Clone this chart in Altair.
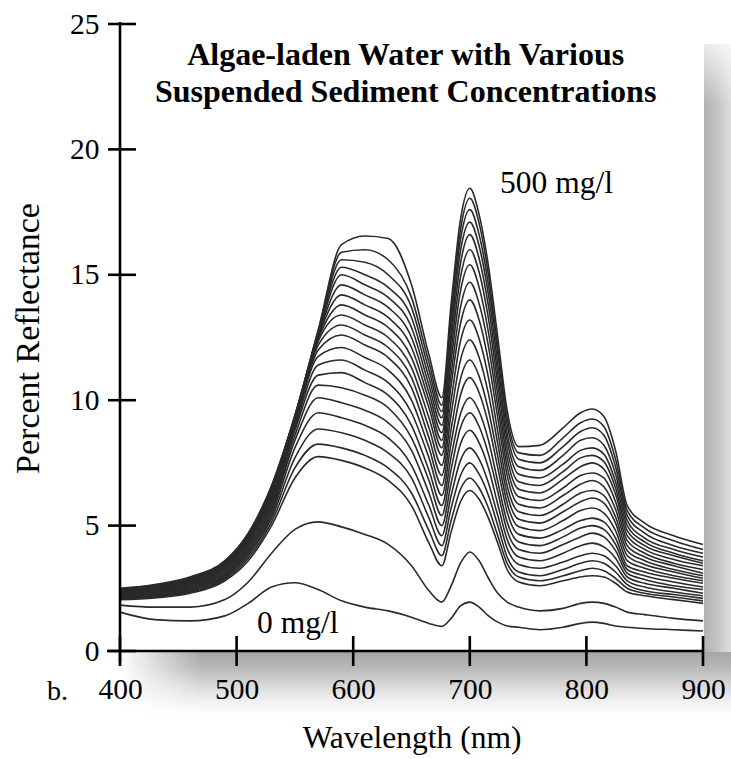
import altair as alt
import pandas as pd

# ---------------- data ----------------
wavelengths = [400, 430, 460, 490, 510, 530, 550, 570, 590, 610, 630, 650, 665, 676, 684, 692,
               700, 708, 716, 724, 732, 742, 760, 780, 795, 805, 815, 825, 835, 850, 875, 900]

# 0 mg/l curve
c0 = [1.55, 1.25, 1.2, 1.4, 1.9, 2.55, 2.72, 2.45, 2.0, 1.75, 1.6, 1.35, 1.1, 0.98, 1.3, 1.8,
      1.95, 1.75, 1.4, 1.15, 1.0, 0.95, 0.85, 0.95, 1.1, 1.15, 1.1, 1.0, 0.95, 0.9, 0.85, 0.8]
# next lowest concentration
c1 = [1.83, 1.75, 1.75, 2.05, 2.75, 3.9, 4.85, 5.15, 4.95, 4.65, 4.25, 3.4, 2.4, 1.95, 2.6, 3.5,
      3.95, 3.6, 2.9, 2.3, 1.95, 1.75, 1.6, 1.7, 1.9, 1.95, 1.9, 1.75, 1.55, 1.45, 1.3, 1.2]

# remaining 20 curves, stacked low -> high (500 mg/l last), one list per wavelength
w400 = [2.05, 2.08, 2.11, 2.14, 2.17, 2.2, 2.23, 2.26, 2.28, 2.31, 2.33, 2.35, 2.37, 2.39, 2.41, 2.43, 2.45, 2.47, 2.48, 2.5]
w430 = [2.12, 2.15, 2.18, 2.21, 2.24, 2.27, 2.3, 2.33, 2.36, 2.39, 2.42, 2.45, 2.48, 2.51, 2.54, 2.56, 2.58, 2.6, 2.62, 2.65]
w460 = [2.3, 2.34, 2.38, 2.42, 2.46, 2.5, 2.54, 2.58, 2.62, 2.65, 2.68, 2.71, 2.74, 2.77, 2.8, 2.83, 2.86, 2.89, 2.92, 2.95]
w490 = [2.8, 2.86, 2.92, 2.98, 3.03, 3.08, 3.13, 3.18, 3.23, 3.28, 3.32, 3.36, 3.4, 3.44, 3.47, 3.5, 3.53, 3.56, 3.58, 3.6]
w510 = [3.6, 3.7, 3.8, 3.88, 3.96, 4.04, 4.12, 4.2, 4.27, 4.34, 4.4, 4.45, 4.5, 4.54, 4.58, 4.61, 4.64, 4.66, 4.68, 4.7]
w530 = [5.0, 5.15, 5.3, 5.42, 5.54, 5.66, 5.78, 5.88, 5.98, 6.07, 6.15, 6.22, 6.28, 6.34, 6.4, 6.45, 6.5, 6.54, 6.57, 6.6]
w550 = [6.9, 7.3, 7.7, 8.1, 8.4, 8.6, 8.8, 8.9, 9.0, 9.1, 9.15, 9.2, 9.25, 9.28, 9.3, 9.32, 9.34, 9.36, 9.38, 9.4]
w570 = [7.75, 8.25, 8.85, 9.5, 10.1, 10.6, 11.0, 11.4, 11.75, 12.0, 12.2, 12.35, 12.45, 12.52, 12.58, 12.63, 12.68, 12.72, 12.76, 12.8]
w590 = [7.6, 8.1, 8.7, 9.3, 9.9, 10.5, 11.1, 11.6, 12.1, 12.6, 13.0, 13.4, 13.8, 14.2, 14.6, 15.0, 15.3, 15.6, 15.9, 16.2]
w610 = [7.3, 7.8, 8.4, 9.0, 9.6, 10.2, 10.7, 11.2, 11.7, 12.2, 12.6, 13.0, 13.4, 13.8, 14.2, 14.6, 15.0, 15.5, 16.0, 16.55]
w630 = [6.8, 7.3, 7.9, 8.5, 9.1, 9.7, 10.2, 10.7, 11.2, 11.7, 12.1, 12.5, 12.9, 13.3, 13.7, 14.1, 14.5, 15.0, 15.6, 16.45]
w650 = [5.8, 6.3, 6.9, 7.4, 8.0, 8.5, 9.0, 9.5, 10.0, 10.5, 10.9, 11.3, 11.7, 12.1, 12.5, 12.9, 13.3, 13.7, 14.1, 14.6]
w665 = [4.3, 4.8, 5.3, 5.8, 6.3, 6.8, 7.2, 7.7, 8.1, 8.5, 8.9, 9.3, 9.7, 10.0, 10.3, 10.6, 10.9, 11.2, 11.5, 11.8]
w676 = [3.4, 3.8, 4.2, 4.6, 5.0, 5.4, 5.8, 6.2, 6.6, 7.0, 7.4, 7.8, 8.1, 8.4, 8.7, 9.0, 9.3, 9.55, 9.8, 10.1]
w684 = [4.75, 5.2, 5.7, 6.2, 6.7, 7.25, 7.75, 8.3, 8.85, 9.45, 10.0, 10.6, 11.05, 11.55, 12.0, 12.4, 12.8, 13.15, 13.5, 13.85]
w692 = [5.95, 6.45, 7.0, 7.6, 8.25, 8.9, 9.45, 10.2, 10.85, 11.6, 12.35, 13.05, 13.7, 14.35, 14.9, 15.45, 15.95, 16.4, 16.8, 17.2]
w700 = [6.4, 6.9, 7.5, 8.1, 8.8, 9.5, 10.1, 10.9, 11.6, 12.4, 13.2, 14.0, 14.7, 15.4, 16.0, 16.6, 17.1, 17.6, 18.05, 18.45]
w708 = [6.05, 6.5, 7.05, 7.65, 8.3, 8.95, 9.55, 10.3, 10.95, 11.7, 12.45, 13.2, 13.85, 14.5, 15.1, 15.65, 16.15, 16.6, 17.05, 17.4]
w716 = [5.3, 5.7, 6.2, 6.7, 7.3, 7.85, 8.4, 9.05, 9.6, 10.25, 10.9, 11.55, 12.15, 12.7, 13.25, 13.75, 14.2, 14.6, 15.0, 15.35]
w724 = [4.3, 4.6, 5.0, 5.4, 5.85, 6.35, 6.75, 7.3, 7.75, 8.25, 8.75, 9.3, 9.75, 10.2, 10.65, 11.05, 11.45, 11.85, 12.15, 12.5]
w732 = [3.25, 3.5, 3.75, 4.1, 4.45, 4.8, 5.15, 5.55, 5.9, 6.25, 6.6, 7.0, 7.35, 7.7, 8.05, 8.4, 8.7, 9.05, 9.3, 9.6]
w742 = [2.75, 2.95, 3.15, 3.45, 3.75, 4.05, 4.35, 4.65, 4.95, 5.25, 5.55, 5.85, 6.15, 6.45, 6.75, 7.05, 7.35, 7.65, 7.9, 8.15]
w760 = [2.6, 2.8, 3.0, 3.3, 3.6, 3.9, 4.2, 4.5, 4.8, 5.1, 5.4, 5.7, 6.0, 6.3, 6.6, 6.9, 7.2, 7.5, 7.8, 8.2]
w780 = [2.8, 3.0, 3.25, 3.55, 3.9, 4.25, 4.55, 4.85, 5.2, 5.55, 5.85, 6.2, 6.5, 6.85, 7.15, 7.45, 7.8, 8.15, 8.5, 8.9]
w795 = [2.95, 3.2, 3.5, 3.8, 4.2, 4.55, 4.9, 5.2, 5.6, 5.95, 6.3, 6.65, 7.0, 7.35, 7.7, 8.0, 8.4, 8.75, 9.1, 9.5]
w805 = [3.0, 3.3, 3.6, 3.9, 4.3, 4.7, 5.0, 5.3, 5.7, 6.1, 6.4, 6.8, 7.1, 7.5, 7.8, 8.1, 8.5, 8.9, 9.25, 9.65]
w815 = [2.95, 3.2, 3.5, 3.8, 4.15, 4.55, 4.85, 5.15, 5.5, 5.9, 6.2, 6.55, 6.9, 7.25, 7.55, 7.85, 8.2, 8.6, 8.95, 9.35]
w825 = [2.7, 2.9, 3.15, 3.4, 3.7, 4.0, 4.25, 4.5, 4.8, 5.1, 5.35, 5.65, 5.95, 6.25, 6.5, 6.75, 7.05, 7.35, 7.65, 8.0]
w835 = [2.35, 2.5, 2.65, 2.8, 2.95, 3.1, 3.25, 3.4, 3.6, 3.8, 4.0, 4.2, 4.4, 4.6, 4.8, 5.0, 5.2, 5.4, 5.6, 5.8]
w850 = [2.2, 2.3, 2.4, 2.55, 2.7, 2.85, 3.0, 3.15, 3.3, 3.45, 3.6, 3.75, 3.9, 4.05, 4.2, 4.35, 4.5, 4.7, 4.9, 5.1]
w875 = [2.05, 2.15, 2.25, 2.35, 2.5, 2.6, 2.75, 2.9, 3.0, 3.15, 3.25, 3.4, 3.5, 3.65, 3.8, 3.9, 4.05, 4.2, 4.4, 4.6]
w900 = [1.9, 2.0, 2.1, 2.2, 2.3, 2.45, 2.55, 2.7, 2.8, 2.9, 3.0, 3.1, 3.25, 3.4, 3.5, 3.6, 3.75, 3.9, 4.05, 4.25]

cluster = [w400, w430, w460, w490, w510, w530, w550, w570, w590, w610, w630, w650, w665, w676,
           w684, w692, w700, w708, w716, w724, w732, w742, w760, w780, w795, w805, w815, w825,
           w835, w850, w875, w900]

xticks = [400, 500, 600, 700, 800, 900]
yticks = [0, 5, 10, 15, 20, 25]
title_lines = ["Algae-laden Water with Various", "Suspended Sediment Concentrations"]
labels = ["500 mg/l", "0 mg/l"]

# ---------------- build table ----------------
rows = []
for i, wl in enumerate(wavelengths):
    rows.append({"wl": wl, "val": c0[i], "curve": 0})
    rows.append({"wl": wl, "val": c1[i], "curve": 1})
    for j, v in enumerate(cluster[i]):
        rows.append({"wl": wl, "val": v, "curve": j + 2})
df = pd.DataFrame(rows)

W, H = 583, 627
FONT = "Liberation Serif"
xs = alt.Scale(domain=[400, 900], nice=False, zero=False)
ys = alt.Scale(domain=[0, 25], nice=False, zero=False)
one = pd.DataFrame({"a": [0]})

xaxis = alt.Axis(
    values=xticks, domain=False, ticks=False, grid=False,
    labelFont=FONT, labelFontSize=29.5, labelColor="black", labelPadding=24,
    labelFlush=False, labelOverlap=False,
    title="Wavelength (nm)", titleFont=FONT, titleFontSize=31.5, titleFontWeight="normal",
    titleColor="black", titleBaseline="alphabetic", titleY=96, zindex=1)
yaxis = alt.Axis(
    values=yticks, domain=False, ticks=False, grid=False,
    labelFont=FONT, labelFontSize=29.5, labelColor="black", labelPadding=21,
    labelOverlap=False,
    title="Percent Reflectance", titleFont=FONT, titleFontSize=34, titleFontWeight="normal",
    titleColor="black", titleX=-75, titleY=314, zindex=1)

X = alt.X("wl:Q", scale=xs, axis=xaxis)
Y = alt.Y("val:Q", scale=ys, axis=yaxis)


def grad(stops, horizontal):
    return alt.Gradient(
        gradient="linear",
        stops=[alt.GradientStop(color=c, offset=o) for o, c in stops],
        x1=0, y1=0, x2=1 if horizontal else 0, y2=0 if horizontal else 1,
    )


# drop shadow of the plot frame
shadow_right = alt.Chart(one).mark_rect(
    fill=grad([(0, "#b2b2b2"), (0.5, "#c6c6c6"), (1, "#e2e2e2")], True)
).encode(x=alt.value(W + 1), x2=alt.value(W + 30), y=alt.value(20), y2=alt.value(H + 40))
shadow_right_fade = alt.Chart(one).mark_rect(
    fill=grad([(0, "rgba(255,255,255,1)"), (1, "rgba(255,255,255,0)")], False)
).encode(x=alt.value(W), x2=alt.value(W + 30), y=alt.value(0), y2=alt.value(80))
shadow_bottom = alt.Chart(one).mark_rect(
    fill=grad([(0, "#a6a6a6"), (0.25, "#b8b8b8"), (0.5, "#d6d6d6"), (0.75, "#eeeeee"), (1, "#ffffff")], False)
).encode(x=alt.value(0), x2=alt.value(W + 30), y=alt.value(H + 1), y2=alt.value(H + 64))
shadow_bottom_fade = alt.Chart(one).mark_rect(
    fill=grad([(0, "rgba(255,255,255,1)"), (0.2, "rgba(255,255,255,1)"), (1, "rgba(255,255,255,0)")], True)
).encode(x=alt.value(-20), x2=alt.value(80), y=alt.value(H + 1), y2=alt.value(H + 64))

lines = alt.Chart(df).mark_line(
    interpolate="monotone", color="#2a2a2a", strokeWidth=1.6
).encode(x=X, y=Y, detail="curve:N")

axis_y_line = alt.Chart(one).mark_rule(color="black", strokeWidth=2.6).encode(
    x=alt.value(0), y=alt.value(-2), y2=alt.value(H + 12))
axis_x_line = alt.Chart(one).mark_rule(color="black", strokeWidth=2.6).encode(
    y=alt.value(H), x=alt.value(-13), x2=alt.value(W))
ytick_rules = alt.Chart(pd.DataFrame({"val": yticks})).mark_rule(color="black", strokeWidth=2.6).encode(
    y=Y, x=alt.value(-12), x2=alt.value(16))
xtick_rules = alt.Chart(pd.DataFrame({"wl": xticks})).mark_rule(color="black", strokeWidth=2.6).encode(
    x=X, y=alt.value(H - 15), y2=alt.value(H + 15))

title_df = pd.DataFrame({"wl": [645, 645], "val": [23.37, 21.9], "txt": title_lines})
title_text = alt.Chart(title_df).mark_text(
    align="center", baseline="alphabetic", font=FONT, fontSize=32, fontWeight="bold", color="black"
).encode(x=X, y=Y, text="txt:N")

label_df = pd.DataFrame({"wl": [726, 517.5], "val": [18.26, 0.72], "txt": labels})
label_text = alt.Chart(label_df).mark_text(
    align="left", baseline="alphabetic", font=FONT, fontSize=31.5, color="black"
).encode(x=X, y=Y, text="txt:N")

panel_tag = alt.Chart(pd.DataFrame({"t": ["b."]})).mark_text(
    align="left", baseline="alphabetic", font=FONT, fontSize=28, color="black"
).encode(x=alt.value(-73), y=alt.value(H + 49), text="t:N")

chart = alt.layer(
    shadow_right, shadow_right_fade, shadow_bottom, shadow_bottom_fade,
    lines, axis_y_line, axis_x_line, ytick_rules, xtick_rules,
    title_text, label_text, panel_tag,
).properties(
    width=W, height=H,
    autosize=alt.AutoSizeParams(type="none"),
    padding={"left": 120, "top": 24, "right": 28, "bottom": 108},
    background="white",
).configure_view(stroke=None)

chart.save("out.html", embed_options={"renderer": "svg", "actions": False})
